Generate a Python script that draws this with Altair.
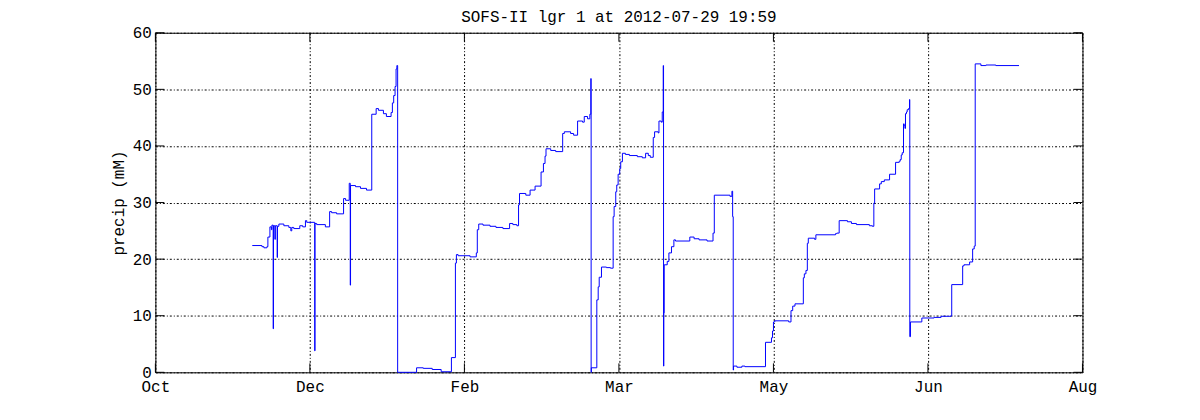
import altair as alt
import pandas as pd

# ---------------- data ----------------
start_date = "2011-10-01"          # day 0 of the time axis below

# days since start_date
t_days = [
    57.73, 60.79, 61.42, 62.37, 62.68, 63.32, 63.79, 63.95, 64.36, 64.45,
    64.89, 65.05, 65.62, 65.72, 66.16, 67.74, 69.32, 69.95, 70.26, 70.89,
    72.79, 73.74, 74.59, 75.00, 77.53, 77.62, 78.16, 80.91, 82.26, 82.89,
    84.47, 86.68, 87.32, 88.48, 88.80, 88.89, 90.47, 92.05, 93.95, 95.62,
    97.01, 97.74, 99.32, 100.26, 101.75, 102.16, 102.57, 103.01, 103.33, 103.58,
    103.83,
    109.83, 111.95, 114.79, 117.63, 120.88, 122.15, 122.46, 123.00, 126.79, 128.78,
    129.09, 129.54, 130.89, 133.11, 135.00, 137.21, 139.33, 140.37, 141.63, 142.17,
    142.48, 144.47, 145.83, 147.41, 149.31, 150.06, 150.57, 150.88, 152.37, 153.95,
    156.16, 156.69, 158.68, 159.63, 160.89, 162.47, 163.01, 164.05, 164.78, 165.09,
    165.19,
    165.25, 166.99, 167.43, 167.75, 168.47, 170.05, 171.32, 172.17, 172.48, 172.99,
    173.31, 173.75, 174.25, 174.57, 175.11, 176.05, 177.32, 179.84, 181.42, 182.46,
    183.32, 183.95, 184.89, 185.31, 186.47, 186.70, 187.42, 187.74, 188.05, 188.15,
    188.24, 188.37, 189.32, 189.85, 190.67, 191.43, 191.94, 196.48, 197.84, 199.42,
    201.95, 203.84, 204.25, 209.21, 209.84, 210.06, 210.25,
    210.35, 211.42, 213.00, 213.95, 220.48, 222.38, 222.70, 223.01, 223.42, 227.84,
    228.57, 229.11, 229.83, 232.48, 232.80, 233.31, 233.75, 234.06, 236.05, 236.46,
    242.68, 243.09, 243.85, 246.47, 247.74, 249.32, 253.42, 254.37, 254.84, 255.09,
    256.67, 257.21, 258.16, 259.83, 261.73, 262.89, 263.21, 263.53, 263.84, 264.25,
    264.47, 264.70, 264.88, 265.20, 265.42, 265.83, 266.15, 266.24,
    266.46, 270.06, 273.95, 276.16, 279.32, 279.54, 283.01, 283.42, 285.22, 286.17,
    286.67, 286.99, 288.79, 290.37, 293.53, 300.88,
]

precip_mm = [
    22.4, 22.2, 22.0, 22.2, 23.9, 25.7, 25.2, 26.0, 7.7, 25.9,
    23.5, 25.9, 20.3, 25.8, 26.2, 25.9, 25.6, 25.0, 25.6, 25.4,
    25.9, 25.7, 26.8, 26.5, 3.8, 26.3, 26.1, 25.7, 28.4, 28.2,
    28.0, 30.7, 30.4, 33.4, 15.4, 33.0, 32.8, 32.5, 32.2, 45.6,
    46.6, 46.3, 45.7, 45.2, 45.9, 47.6, 48.9, 50.5, 53.6, 54.2,
    0.0,
    0.8, 0.7, 0.5, 0.1, 2.6, 19.3, 20.8, 20.6, 20.4, 21.1,
    25.2, 26.2, 26.0, 25.8, 25.6, 25.4, 26.3, 26.1, 25.9, 29.6,
    31.6, 31.3, 32.2, 32.9, 35.4, 36.9, 38.2, 39.5, 39.2, 39.0,
    42.2, 42.5, 42.2, 41.9, 44.4, 44.2, 45.2, 44.8, 45.6, 51.9,
    0.0,
    0.8, 12.8, 15.1, 16.8, 18.6, 18.5, 18.4, 27.5, 29.3, 31.9,
    33.1, 35.0, 36.0, 37.2, 38.7, 38.5, 38.3, 38.1, 37.9, 38.7,
    38.3, 38.0, 41.5, 42.5, 42.3, 44.4, 44.2, 46.0, 54.2, 1.1,
    10.5, 19.0, 19.6, 21.1, 22.2, 23.4, 23.2, 23.9, 23.6, 23.4,
    23.2, 24.6, 31.3, 31.1, 32.0, 27.5, 0.4,
    1.1, 0.9, 1.1, 1.0, 5.3, 6.1, 7.3, 8.9, 9.1, 8.9,
    10.9, 11.7, 12.1, 16.7, 17.4, 18.0, 22.8, 23.7, 23.5, 24.3,
    24.5, 24.6, 26.8, 26.6, 26.3, 26.1, 25.9, 25.8, 29.9, 32.4,
    33.3, 33.7, 34.0, 35.0, 37.1, 37.3, 37.6, 38.4, 38.8, 43.9,
    43.6, 43.1, 45.7, 46.0, 46.4, 46.6, 48.2, 6.3,
    8.9, 9.6, 9.7, 9.9, 10.0, 15.5, 18.8, 19.0, 19.5, 21.8,
    22.3, 54.5, 54.2, 54.3, 54.2, 54.2,
]

tick_days = [27, 76, 125, 174, 223, 272, 321]
tick_labels = ["Oct", "Dec", "Feb", "Mar", "May", "Jun", "Aug"]
y_ticks = [0, 10, 20, 30, 40, 50, 60]

title_text = "SOFS-II lgr 1 at 2012-07-29 19:59"
y_title = "precip (mM)"

# ---------------- build tables ----------------
base = pd.Timestamp(start_date)
df = pd.DataFrame({
    "time": base + pd.to_timedelta(t_days, unit="D"),
    "precip": precip_mm,
})
tick_times = [base + pd.Timedelta(days=d) for d in tick_days]
df_xt = pd.DataFrame({"time": tick_times})
df_yt = pd.DataFrame({"precip": y_ticks})
df_title = pd.DataFrame({"label": [title_text]})

def dt(t):
    return alt.DateTime(year=t.year, month=t.month, date=t.day)

# label expression built from the tick label list (keyed by month number)
expr = "''"
for t, lab in reversed(list(zip(tick_times, tick_labels))):
    expr = f"month(datum.value) == {t.month - 1} ? '{lab}' : ({expr})"

FONT = "Liberation Mono"
W, H = 931, 341
TICK = 9

x_enc = alt.X(
    "time:T",
    scale=alt.Scale(domain=[dt(tick_times[0]), dt(tick_times[-1])]),
    axis=alt.Axis(values=[dt(t) for t in tick_times], labelExpr=expr,
                  labelFlush=False, labelOverlap=False, title=None),
)
y_enc = alt.Y(
    "precip:Q",
    scale=alt.Scale(domain=[y_ticks[0], y_ticks[-1]], nice=False),
    axis=alt.Axis(values=y_ticks, title=y_title, labelFlush=False),
)

line = alt.Chart(df).mark_line(
    color="#0000ff", strokeWidth=1, interpolate="step-after"
).encode(x=x_enc, y=y_enc)

xt_bottom = alt.Chart(df_xt).mark_rule(color="black", strokeWidth=1).encode(
    x="time:T", y=alt.value(H), y2=alt.value(H - TICK))
xt_top = alt.Chart(df_xt).mark_rule(color="black", strokeWidth=1).encode(
    x="time:T", y=alt.value(0), y2=alt.value(TICK))
yt_left = alt.Chart(df_yt).mark_rule(color="black", strokeWidth=1).encode(
    y="precip:Q", x=alt.value(0), x2=alt.value(TICK))
yt_right = alt.Chart(df_yt).mark_rule(color="black", strokeWidth=1).encode(
    y="precip:Q", x=alt.value(W), x2=alt.value(W - TICK))

title_mark = alt.Chart(df_title).mark_text(
    font=FONT, fontSize=16, color="black", align="center", baseline="alphabetic"
).encode(text="label:N", x=alt.value(W / 2), y=alt.value(-11))

chart = alt.layer(line, xt_bottom, xt_top, yt_left, yt_right, title_mark).properties(
    width=W,
    height=H,
    autosize=alt.AutoSizeParams(type="none"),
    padding={"left": 148, "top": 24, "right": 110, "bottom": 40},
    background="white",
).configure_view(
    stroke="black", strokeWidth=1
).configure_axis(
    grid=True, gridColor="black", gridOpacity=1, gridWidth=1,
    gridDash=[2, 2, 1, 2],
    domain=False, ticks=False,
    labelFont=FONT, labelFontSize=16, labelColor="black",
    titleFont=FONT, titleFontSize=16, titleFontWeight="normal", titleColor="black",
).configure_axisX(
    labelPadding=6,
).configure_axisY(
    labelPadding=4, titlePadding=6,
)

chart.save("out.html", embed_options={"renderer": "svg", "actions": False})
